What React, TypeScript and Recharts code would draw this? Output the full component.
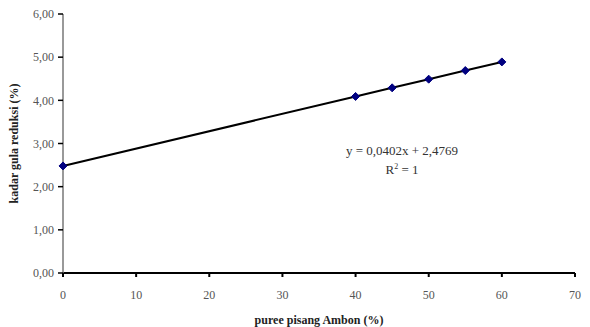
import React from 'react';
import { ComposedChart, Line, XAxis, YAxis, Label } from 'recharts';

const pureePercent = [0, 40, 45, 50, 55, 60];
const kadarGula = [2.48, 4.09, 4.29, 4.49, 4.69, 4.89];
const xTicks = [0, 10, 20, 30, 40, 50, 60, 70];
const yTicks = [0, 1, 2, 3, 4, 5, 6];
const equationLines = ['y = 0,0402x + 2,4769', 'R2 = 1'];

const data = pureePercent.map((x, i) => ({ x, y: kadarGula[i] }));

const serif = '"Liberation Serif", "Times New Roman", serif';

const Diamond = (props: any) => {
  const { cx, cy } = props;
  if (cx == null || cy == null) return null;
  const r = 4;
  return (
    <polygon
      points={`${cx},${cy - r} ${cx + r},${cy} ${cx},${cy + r} ${cx - r},${cy}`}
      fill="#000080"
      stroke="#000080"
    />
  );
};

export default function App() {
  return (
    <div style={{ position: 'absolute', left: 0, top: 0, width: 590, height: 327, background: '#fff', fontFamily: serif }}>
      <ComposedChart width={590} height={327} data={data} margin={{ top: 14, right: 15, bottom: 0, left: 0 }}>
        <XAxis
          dataKey="x"
          type="number"
          domain={[0, 70]}
          ticks={xTicks}
          tickSize={4}
          tickMargin={13}
          stroke="#000"
          strokeWidth={2}
          tick={{ fill: '#555', fontSize: 12, fontFamily: serif }}
          height={54}
        >
          <Label
            value="puree pisang Ambon (%)"
            position="insideBottom"
            offset={3}
            style={{ fontFamily: serif, fontWeight: 'bold', fontSize: 12, fill: '#222' }}
          />
        </XAxis>
        <YAxis
          type="number"
          domain={[0, 6]}
          ticks={yTicks}
          width={63}
          tickSize={5}
          tickMargin={4}
          stroke="#777"
          strokeWidth={1.5}
          tickLine={{ stroke: '#000' }}
          tick={{ fill: '#555', fontSize: 12, fontFamily: serif }}
          tickFormatter={(v: number) => v.toFixed(2).replace('.', ',')}
        >
          <Label
            value="kadar gula reduksi (%)"
            angle={-90}
            position="insideLeft"
            offset={14}
            style={{ fontFamily: serif, fontWeight: 'bold', fontSize: 12, fill: '#222', textAnchor: 'middle' }}
          />
        </YAxis>
        <Line
          dataKey="y"
          stroke="#000"
          strokeWidth={2}
          dot={<Diamond />}
          activeDot={false}
          isAnimationActive={false}
        />
      </ComposedChart>
      <div style={{ position: 'absolute', left: 302, top: 143, width: 200, textAlign: 'center', fontSize: 13, color: '#333', lineHeight: '16px' }}>
        <div>{equationLines[0]}</div>
        <div>
          R<sup style={{ fontSize: 8 }}>2</sup>
          {equationLines[1].slice(2)}
        </div>
      </div>
    </div>
  );
}
